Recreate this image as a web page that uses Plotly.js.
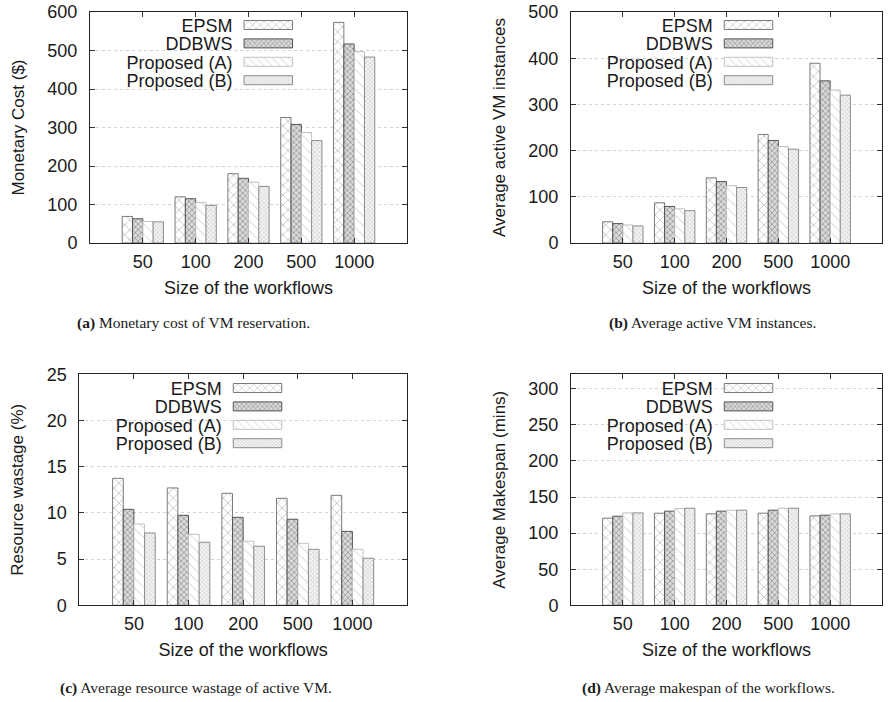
<!DOCTYPE html>
<html>
<head>
<meta charset="utf-8">
<script src="https://cdn.plot.ly/plotly-3.0.1.min.js"></script>
<style>
html,body{margin:0;padding:0;background:#fff;}
#chart{width:891px;height:702px;}
</style>
</head>
<body>
<div id="chart"></div>
<script>
// ---------- data ----------
const categories = ['50', '100', '200', '500', '1000'];
const seriesNames = ['EPSM', 'DDBWS', 'Proposed (A)', 'Proposed (B)'];

const costEPSM  = [69, 120, 180, 326, 573];
const costDDBWS = [63, 115, 168, 308, 517];
const costPropA = [56, 105, 158, 287, 497];
const costPropB = [55, 98, 147, 266, 483];

const vmEPSM  = [46, 87, 141, 235, 389];
const vmDDBWS = [42, 79, 133, 222, 351];
const vmPropA = [39, 74, 124, 209, 331];
const vmPropB = [37, 70, 120, 203, 320];

const wasteEPSM  = [13.74, 12.7, 12.12, 11.58, 11.9];
const wasteDDBWS = [10.39, 9.74, 9.52, 9.31, 8.0];
const wastePropA = [8.8, 7.68, 6.93, 6.71, 6.06];
const wastePropB = [7.83, 6.82, 6.39, 6.06, 5.09];

const mkEPSM  = [120.7, 127.6, 126.7, 127.6, 123.9];
const mkDDBWS = [123.4, 130.4, 130.4, 131.8, 124.8];
const mkPropA = [128.0, 134.0, 131.8, 134.5, 126.7];
const mkPropB = [128.0, 134.5, 131.8, 134.5, 126.7];

const yTitles = ['Monetary Cost ($)', 'Average active VM instances', 'Resource wastage (%)', 'Average Makespan (mins)'];
const xTitle = 'Size of the workflows';
const captions = [
  '<b>(a)</b> Monetary cost of VM reservation.',
  '<b>(b)</b> Average active VM instances.',
  '<b>(c)</b> Average resource wastage of active VM.',
  '<b>(d)</b> Average makespan of the workflows.'
];

// ---------- styles ----------
const styles = [
  {pattern: {shape: 'x', size: 7, solidity: 0.12, fgcolor: '#8a8a8a', bgcolor: '#ffffff', fillmode: 'replace'}, line: '#7a7a7a'},
  {pattern: {shape: 'x', size: 4, solidity: 0.3, fgcolor: '#858585', bgcolor: '#dadada', fillmode: 'replace'}, line: '#555555'},
  {pattern: {shape: '\\', size: 7, solidity: 0.12, fgcolor: '#c4c4c4', bgcolor: '#ffffff', fillmode: 'replace'}, line: '#c0c0c0'},
  {pattern: {shape: 'x', size: 3, solidity: 0.25, fgcolor: '#b8b8b8', bgcolor: '#f4f4f4', fillmode: 'replace'}, line: '#8c8c8c'}
];

const panels = [
  {data: [costEPSM, costDDBWS, costPropA, costPropB], ax: '', leg: 'legend'},
  {data: [vmEPSM, vmDDBWS, vmPropA, vmPropB], ax: '2', leg: 'legend2'},
  {data: [wasteEPSM, wasteDDBWS, wastePropA, wastePropB], ax: '3', leg: 'legend3'},
  {data: [mkEPSM, mkDDBWS, mkPropA, mkPropB], ax: '4', leg: 'legend4'}
];

const traces = [];
panels.forEach(p => {
  p.data.forEach((vals, i) => {
    traces.push({
      type: 'bar',
      x: categories,
      y: vals,
      name: seriesNames[i],
      xaxis: 'x' + p.ax,
      yaxis: 'y' + p.ax,
      legend: p.leg,
      marker: {color: '#ffffff', pattern: styles[i].pattern, line: {color: styles[i].line, width: 1}},
      hoverinfo: 'x+y+name'
    });
  });
});

const FONT = 'Liberation Sans, Arial, sans-serif';
const txt = '#1a1a1a';

function xAxis(domain, anchor) {
  return {
    domain: domain, anchor: anchor, type: 'category', range: [-1, 5],
    showline: true, linecolor: '#222', linewidth: 1, mirror: 'ticks',
    ticks: 'inside', ticklen: 5, tickcolor: '#333', showgrid: false, zeroline: false,
    tickfont: {family: FONT, size: 18, color: txt}, ticklabelstandoff: 2,
    title: {text: xTitle, font: {family: FONT, size: 18, color: txt}, standoff: 10},
    automargin: false, fixedrange: true
  };
}
function yAxis(domain, anchor, range, dtick, title) {
  return {
    domain: domain, anchor: anchor, range: range, dtick: dtick,
    showline: true, linecolor: '#222', linewidth: 1, mirror: 'ticks',
    ticks: 'inside', ticklen: 5, tickcolor: '#333',
    showgrid: true, gridcolor: '#d2d2d2', griddash: 'dot', gridwidth: 1, zeroline: false,
    tickfont: {family: FONT, size: 18, color: txt}, ticklabelstandoff: 8,
    title: {text: title, font: {family: FONT, size: 17, color: txt}, standoff: 18},
    automargin: false, fixedrange: true
  };
}

const dxL = [90 / 891, 407 / 891];
const dxLc = [79.3 / 891, 407 / 891];
const dxR = [571 / 891, 882 / 891];
const dyT = [(702 - 243) / 702, (702 - 12) / 702];
const dyB = [(702 - 605.3) / 702, (702 - 374.3) / 702];

function legendCfg(x, y) {
  return {x: x, y: y, xanchor: 'left', yanchor: 'top', bgcolor: 'rgba(0,0,0,0)', borderwidth: 0,
          font: {family: FONT, size: 18, color: txt}, itemclick: false, itemdoubleclick: false};
}

const capFont = {family: 'Liberation Serif, Times New Roman, serif', size: 15.5, color: '#1a1a1a'};
const layout = {
  width: 891, height: 702,
  margin: {l: 0, r: 0, t: 0, b: 0, pad: 0},
  paper_bgcolor: '#ffffff', plot_bgcolor: '#ffffff',
  barmode: 'group', bargap: 0.22, bargroupgap: 0,
  showlegend: true,
  xaxis: xAxis(dxL, 'y'),
  yaxis: yAxis(dyT, 'x', [0, 600], 100, yTitles[0]),
  xaxis2: xAxis(dxR, 'y2'),
  yaxis2: yAxis(dyT, 'x2', [0, 500], 100, yTitles[1]),
  xaxis3: xAxis(dxLc, 'y3'),
  yaxis3: yAxis(dyB, 'x3', [0, 25], 5, yTitles[2]),
  xaxis4: xAxis(dxR, 'y4'),
  yaxis4: yAxis(dyB, 'x4', [0, 320], 50, yTitles[3]),
  legend: legendCfg(0.2, 0.98),
  legend2: legendCfg(0.75, 0.98),
  legend3: legendCfg(0.2, 0.46),
  legend4: legendCfg(0.75, 0.46),
  annotations: [
    {text: captions[0], x: 193.5 / 891, y: (702 - 323) / 702, xref: 'paper', yref: 'paper', showarrow: false, font: capFont, xanchor: 'center', yanchor: 'middle'},
    {text: captions[1], x: 712 / 891, y: (702 - 323) / 702, xref: 'paper', yref: 'paper', showarrow: false, font: capFont, xanchor: 'center', yanchor: 'middle'},
    {text: captions[2], x: 195.5 / 891, y: (702 - 688) / 702, xref: 'paper', yref: 'paper', showarrow: false, font: capFont, xanchor: 'center', yanchor: 'middle'},
    {text: captions[3], x: 708.5 / 891, y: (702 - 688) / 702, xref: 'paper', yref: 'paper', showarrow: false, font: capFont, xanchor: 'center', yanchor: 'middle'}
  ]
};

// legend placement (gnuplot style: label on the left, wide swatch on the right)
const LEG = [
  {id: 'legend',  cx: 268.3, y0: 25,  dy: 18.4},
  {id: 'legend2', cx: 748.5, y0: 25,  dy: 18.4},
  {id: 'legend3', cx: 257.5, y0: 388, dy: 18.4},
  {id: 'legend4', cx: 748.5, y0: 388, dy: 18.4}
];
const SW = 24.25, SH = 4.5, GAP = 11.5;

const gd = document.getElementById('chart');
function findLegend(id) {
  const all = gd.querySelectorAll('g');
  for (const g of all) {
    if (g.classList && g.classList.contains(id) && g.querySelector('g.traces')) return g;
  }
  return null;
}
function fixLegends() {
  const root = gd.getBoundingClientRect();
  const svg = gd.querySelector('svg.main-svg');
  LEG.forEach(L => {
    const g = findLegend(L.id);
    if (!g) return;
    g.querySelectorAll('[clip-path]').forEach(s => s.removeAttribute('clip-path'));
    const items = g.querySelectorAll('g.traces');
    items.forEach((tr, i) => {
      const p = tr.querySelector('path.legendbar') || tr.querySelector('.legendpoints path');
      if (!p) return;
      p.setAttribute('d', 'M-' + SW + ',-' + SH + 'H' + SW + 'V' + SH + 'H-' + SW + 'Z');
      const pr = p.getBoundingClientRect();
      const cx = (pr.left + pr.right) / 2 - root.left;
      const cy = (pr.top + pr.bottom) / 2 - root.top;
      const m = /translate\(\s*([-\d.e]+)[\s,]*([-\d.e]+)?\s*\)/.exec(tr.getAttribute('transform') || '');
      let tx = m ? parseFloat(m[1]) : 0, ty = (m && m[2]) ? parseFloat(m[2]) : 0;
      tx += L.cx - cx;
      ty += (L.y0 + i * L.dy) - cy;
      tr.setAttribute('transform', 'translate(' + tx + ',' + ty + ')');
      const t = tr.querySelector('text.' + L.id + 'text') || tr.querySelector('text.legendtext') || tr.querySelector('text');
      if (t) {
        const ctm = t.getScreenCTM();
        const pt = svg.createSVGPoint();
        pt.x = root.left + L.cx - SW - GAP;
        pt.y = root.top + L.y0 + i * L.dy;
        const loc = pt.matrixTransform(ctm.inverse());
        t.setAttribute('x', loc.x);
        t.setAttribute('text-anchor', 'end');
        t.style.textAnchor = 'end';
        t.querySelectorAll('tspan[x]').forEach(ts => ts.setAttribute('x', loc.x));
      }
    });
  });
}

Plotly.newPlot(gd, traces, layout, {displayModeBar: false, responsive: false}).then(() => {
  try { fixLegends(); } catch (e) { console.error(e); }
  gd.on('plotly_afterplot', () => { try { fixLegends(); } catch (e) {} });
  [50, 200, 600].forEach(ms => setTimeout(() => { try { fixLegends(); } catch (e) {} }, ms));
});
</script>
</body>
</html>
